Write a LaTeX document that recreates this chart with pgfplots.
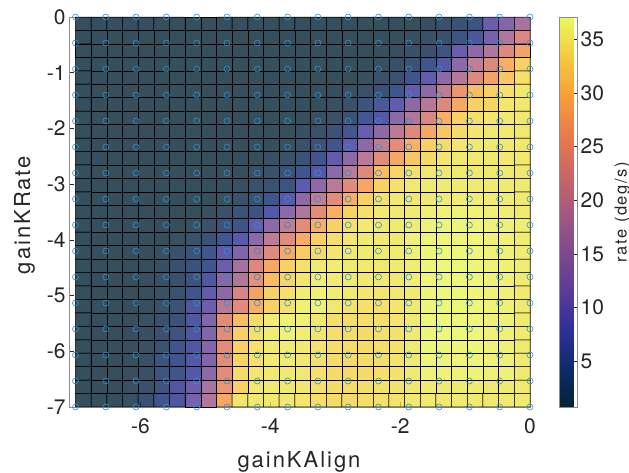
\documentclass[border=0pt]{standalone}
\usepackage{pgfplots}
\pgfplotsset{compat=1.18}
\usepackage{fontspec}
\setmainfont{TeX Gyre Heros}
\newfontfamily\labfont{TeX Gyre Heros}[LetterSpace=9]
\newfontfamily\cbfont{TeX Gyre Heros}[LetterSpace=10]
\definecolor{mlgray}{rgb}{0.15,0.15,0.15}
\definecolor{mlblue}{rgb}{0,0.447,0.741}
\definecolor{axgray}{rgb}{0.55,0.55,0.55}
\pgfplotsset{
  /pgf/number format/assume math mode=true,
  colormap={thermal}{rgb255=(4,35,51) rgb255=(13,43,108) rgb255=(48,47,155) rgb255=(92,60,152) rgb255=(128,73,142) rgb255=(166,88,126) rgb255=(204,102,100) rgb255=(234,123,74) rgb255=(248,158,56) rgb255=(245,203,62) rgb255=(232,250,91)},
}
\begin{document}
\begin{tikzpicture}
\begin{axis}[
  at={(0pt,0pt)}, anchor=south west,
  scale only axis, width=461pt, height=390pt,
  xmin=-7.1, xmax=0, ymin=-7, ymax=0,
  xtick={-6,-4,-2,0}, ytick={-7,-6,-5,-4,-3,-2,-1,0},
  tick pos=left, tick align=inside, major tick length=5pt,
  axis line style={draw=axgray, line width=0.6pt},
  tick style={draw=mlgray, line width=0.5pt},
  tick label style={font=\fontsize{21}{25}\selectfont, text=mlgray},
  xticklabel style={yshift=-8pt},
  xlabel={\labfont gainKAlign},
  ylabel={\labfont gainKRate},
  xlabel style={at={(axis description cs:0.499,-0.1546)}, anchor=base, font=\fontsize{22}{26}\selectfont, text=mlgray},
  ylabel style={at={(axis description cs:-0.0846,0.492)}, anchor=base, font=\fontsize{22}{26}\selectfont, text=mlgray},
  clip=false,
  colormap name=thermal,
  point meta min=0.7, point meta max=37.1,
  colorbar,
  colorbar shift/.style={xshift=20pt},
  colorbar style={
    scale only axis, width=18pt, height=390pt,
    ytick={5,10,15,20,25,30,35},
    tick pos=right, tick align=inside, major tick length=3.5pt,
    axis line style={draw=axgray, line width=0.5pt},
    tick style={draw=mlgray, line width=0.5pt},
    yticklabel style={font=\fontsize{21}{25}\selectfont, text=mlgray, /pgf/number format/assume math mode=true},
    ylabel={\cbfont rate (deg/s)},
    ylabel style={at={(axis description cs:3.75,0.5)}, anchor=base, font=\fontsize{16.5}{19}\selectfont, text=mlgray},
  },
]
\addplot[matrix plot*, mesh/cols=29, mesh/rows=29, point meta=explicit, shader=faceted, faceted color=black, fill opacity=0.8, line width=0.5pt]
table[x expr={-7+(\coordindex-29*floor((\coordindex+0.5)/29)+0.5)*7/29}, y expr={-7+(floor((\coordindex+0.5)/29)+0.5)*7/29}, meta=c, row sep=\\]{
c\\
0.8\\ 0.8\\ 0.8\\ 1.3\\ 2.5\\ 4.5\\ 6.5\\ 11\\ 18\\ 28.5\\ 35\\ 35.3\\ 35.3\\ 35.3\\ 35\\ 34.3\\ 34\\ 34\\ 34.2\\ 34.5\\ 34.8\\ 35.3\\ 35.5\\ 35.3\\ 35.5\\ 35.5\\ 35.3\\ 35.5\\ 35.5\\
0.8\\ 0.8\\ 0.8\\ 1.2\\ 2\\ 3.5\\ 6.5\\ 10\\ 17\\ 26\\ 33\\ 35\\ 35.3\\ 35.3\\ 35\\ 34.3\\ 34\\ 34\\ 34.2\\ 34.5\\ 34.8\\ 35.3\\ 35.5\\ 35.5\\ 35.5\\ 35.5\\ 35.3\\ 35.5\\ 35.5\\
0.8\\ 0.8\\ 0.8\\ 1\\ 1.6\\ 3.5\\ 4.5\\ 7.5\\ 13.5\\ 24.5\\ 34\\ 35\\ 35.5\\ 35.5\\ 35.2\\ 34.5\\ 34\\ 33.8\\ 34\\ 34.3\\ 34.8\\ 35.5\\ 36.3\\ 36.3\\ 36.3\\ 36.3\\ 36\\ 36\\ 35.5\\
0.8\\ 0.8\\ 0.8\\ 1\\ 1.5\\ 3.5\\ 4.5\\ 7.3\\ 12.5\\ 24.5\\ 33.5\\ 34.5\\ 35.5\\ 35.5\\ 35.2\\ 34.5\\ 34\\ 33.8\\ 34\\ 34.3\\ 34.8\\ 35.5\\ 36.5\\ 36.5\\ 36.5\\ 36.5\\ 36.3\\ 36\\ 35.5\\
0.8\\ 0.8\\ 0.8\\ 1\\ 1.4\\ 2.3\\ 4.5\\ 6.5\\ 12.5\\ 24.5\\ 33\\ 34.5\\ 35.5\\ 35.8\\ 35.5\\ 34.8\\ 34.2\\ 34\\ 34\\ 34.3\\ 34.8\\ 35.5\\ 36.5\\ 36.5\\ 36.5\\ 36.5\\ 36.3\\ 36\\ 35.5\\
0.8\\ 0.8\\ 0.8\\ 0.9\\ 1.3\\ 2.2\\ 3.5\\ 6.5\\ 12.3\\ 24.5\\ 33\\ 34.5\\ 35.8\\ 36\\ 35.8\\ 35\\ 34.3\\ 34\\ 34\\ 34.3\\ 34.8\\ 35.5\\ 36.5\\ 36.8\\ 36.8\\ 36.5\\ 36.3\\ 36\\ 35.5\\
0.8\\ 0.8\\ 0.8\\ 0.9\\ 1.2\\ 2\\ 3\\ 6.5\\ 12.3\\ 24.5\\ 31\\ 34\\ 35.8\\ 36\\ 36\\ 35.3\\ 34.5\\ 34.2\\ 34.2\\ 34.5\\ 35\\ 35.5\\ 36.5\\ 36.8\\ 36.8\\ 36.5\\ 36.3\\ 36\\ 35.5\\
0.8\\ 0.8\\ 0.8\\ 0.9\\ 1.1\\ 1.8\\ 3\\ 6.5\\ 10\\ 19\\ 24\\ 29.5\\ 33\\ 34.5\\ 36\\ 36\\ 35.3\\ 34.8\\ 34.5\\ 34.5\\ 35\\ 35.5\\ 36.5\\ 36.8\\ 36.8\\ 36.5\\ 36.3\\ 36\\ 35.5\\
0.8\\ 0.8\\ 0.8\\ 0.8\\ 1\\ 1.6\\ 2.5\\ 4.5\\ 9\\ 14\\ 22.5\\ 28\\ 33\\ 34.5\\ 35.8\\ 36\\ 35.8\\ 35.3\\ 35\\ 35\\ 35.2\\ 35.5\\ 36.5\\ 36.8\\ 36.8\\ 36.5\\ 36.3\\ 36\\ 35.5\\
0.8\\ 0.8\\ 0.8\\ 0.8\\ 1\\ 1.5\\ 2.2\\ 3.5\\ 6.5\\ 13\\ 18\\ 25\\ 31\\ 33.5\\ 35\\ 35.8\\ 35.8\\ 35.5\\ 35.3\\ 35.2\\ 35.3\\ 35.8\\ 36.5\\ 36.8\\ 36.8\\ 36.5\\ 36.3\\ 36\\ 35.5\\
0.8\\ 0.8\\ 0.8\\ 0.8\\ 0.9\\ 1.3\\ 2\\ 3\\ 4.8\\ 10\\ 16.5\\ 23.5\\ 28.5\\ 33\\ 34.5\\ 35.5\\ 35.8\\ 35.5\\ 35.3\\ 35.3\\ 35.5\\ 35.8\\ 36.5\\ 36.8\\ 36.8\\ 36.5\\ 36.3\\ 36\\ 35.8\\
0.8\\ 0.8\\ 0.8\\ 0.8\\ 0.8\\ 1.2\\ 1.8\\ 2.8\\ 4.8\\ 8.5\\ 12\\ 19\\ 24\\ 28.8\\ 32.5\\ 34\\ 35\\ 35.5\\ 35.5\\ 35.5\\ 35.6\\ 36\\ 36.5\\ 36.8\\ 36.8\\ 36.5\\ 36.3\\ 36\\ 35.8\\
0.8\\ 0.8\\ 0.8\\ 0.8\\ 0.8\\ 0.8\\ 1.2\\ 1.8\\ 2.8\\ 4.8\\ 8\\ 13.5\\ 19.5\\ 24\\ 29\\ 32.8\\ 34.2\\ 35.2\\ 35.5\\ 35.5\\ 35.5\\ 36\\ 36.5\\ 36.5\\ 36.5\\ 36.5\\ 36.3\\ 36\\ 35.8\\
0.8\\ 0.8\\ 0.8\\ 0.8\\ 0.8\\ 0.8\\ 0.8\\ 1.2\\ 1.8\\ 2.8\\ 4\\ 9\\ 13.5\\ 20\\ 24.5\\ 29.5\\ 33\\ 34.5\\ 35.2\\ 35.3\\ 35.3\\ 35.8\\ 36.3\\ 36.5\\ 36.5\\ 36.5\\ 36.3\\ 36\\ 35.8\\
0.8\\ 0.8\\ 0.8\\ 0.8\\ 0.8\\ 0.8\\ 0.8\\ 0.8\\ 1.2\\ 1.8\\ 2.8\\ 3.5\\ 7.3\\ 13.5\\ 18\\ 24.5\\ 29.5\\ 33\\ 34.5\\ 35.2\\ 35.3\\ 35.5\\ 36\\ 36.3\\ 36.3\\ 36.3\\ 36\\ 35.8\\ 35.6\\
0.8\\ 0.8\\ 0.8\\ 0.8\\ 0.8\\ 0.8\\ 0.8\\ 0.8\\ 0.8\\ 1.2\\ 1.8\\ 2.5\\ 4.5\\ 8\\ 14\\ 20\\ 24\\ 29.5\\ 33\\ 34.5\\ 35.2\\ 35.3\\ 35.5\\ 35.8\\ 35.8\\ 35.8\\ 35.8\\ 35.6\\ 35.5\\
0.8\\ 0.8\\ 0.8\\ 0.8\\ 0.8\\ 0.8\\ 0.8\\ 0.8\\ 0.8\\ 0.8\\ 1.2\\ 1.8\\ 2.5\\ 3.5\\ 8.5\\ 14\\ 19\\ 24\\ 28.5\\ 33\\ 34.5\\ 35.2\\ 35.3\\ 35.5\\ 35.5\\ 35.5\\ 35.5\\ 35.5\\ 35.5\\
0.8\\ 0.8\\ 0.8\\ 0.8\\ 0.8\\ 0.8\\ 0.8\\ 0.8\\ 0.8\\ 0.8\\ 0.8\\ 1.2\\ 1.8\\ 2.8\\ 4.5\\ 7.5\\ 13.5\\ 19\\ 23.6\\ 31\\ 33.5\\ 34.5\\ 35.2\\ 35.3\\ 35.3\\ 35.3\\ 35.3\\ 35.3\\ 35.3\\
0.8\\ 0.8\\ 0.8\\ 0.8\\ 0.8\\ 0.8\\ 0.8\\ 0.8\\ 0.8\\ 0.8\\ 0.8\\ 0.8\\ 1.2\\ 1.8\\ 2.8\\ 4.5\\ 9\\ 14\\ 19\\ 24.5\\ 28.5\\ 32\\ 34\\ 35\\ 35.3\\ 35.3\\ 35.3\\ 35.3\\ 35.3\\
0.8\\ 0.8\\ 0.8\\ 0.8\\ 0.8\\ 0.8\\ 0.8\\ 0.8\\ 0.8\\ 0.8\\ 0.8\\ 0.8\\ 0.8\\ 1.2\\ 1.8\\ 2.8\\ 4.5\\ 9\\ 14\\ 20\\ 24.5\\ 30\\ 33\\ 34\\ 35\\ 35.3\\ 35.3\\ 35.3\\ 35.3\\
0.8\\ 0.8\\ 0.8\\ 0.8\\ 0.8\\ 0.8\\ 0.8\\ 0.8\\ 0.8\\ 0.8\\ 0.8\\ 0.8\\ 0.8\\ 0.8\\ 1.2\\ 1.8\\ 2.8\\ 5\\ 9.5\\ 14\\ 19\\ 23.6\\ 28.5\\ 32\\ 34\\ 35\\ 35.3\\ 35.3\\ 35.3\\
0.8\\ 0.8\\ 0.8\\ 0.8\\ 0.8\\ 0.8\\ 0.8\\ 0.8\\ 0.8\\ 0.8\\ 0.8\\ 0.8\\ 0.8\\ 0.8\\ 0.8\\ 1.2\\ 1.8\\ 2.8\\ 5.5\\ 7.5\\ 13.5\\ 18\\ 23\\ 29.5\\ 33\\ 34.3\\ 35\\ 35.3\\ 35.3\\
0.8\\ 0.8\\ 0.8\\ 0.8\\ 0.8\\ 0.8\\ 0.8\\ 0.8\\ 0.8\\ 0.8\\ 0.8\\ 0.8\\ 0.8\\ 0.8\\ 0.8\\ 0.8\\ 1.2\\ 1.8\\ 3.5\\ 6\\ 9\\ 14\\ 18.5\\ 23.6\\ 28.5\\ 33\\ 33.5\\ 35\\ 35.3\\
0.8\\ 0.8\\ 0.8\\ 0.8\\ 0.8\\ 0.8\\ 0.8\\ 0.8\\ 0.8\\ 0.8\\ 0.8\\ 0.8\\ 0.8\\ 0.8\\ 0.8\\ 0.8\\ 0.8\\ 1.2\\ 1.8\\ 2.5\\ 4.5\\ 9\\ 14\\ 20\\ 26\\ 31\\ 33\\ 34.5\\ 35.3\\
0.8\\ 0.8\\ 0.8\\ 0.8\\ 0.8\\ 0.8\\ 0.8\\ 0.8\\ 0.8\\ 0.8\\ 0.8\\ 0.8\\ 0.8\\ 0.8\\ 0.8\\ 0.8\\ 0.8\\ 0.8\\ 1.2\\ 1.8\\ 2.5\\ 4.5\\ 9\\ 14\\ 18.5\\ 23.6\\ 28\\ 32\\ 34.5\\
0.8\\ 0.8\\ 0.8\\ 0.8\\ 0.8\\ 0.8\\ 0.8\\ 0.8\\ 0.8\\ 0.8\\ 0.8\\ 0.8\\ 0.8\\ 0.8\\ 0.8\\ 0.8\\ 0.8\\ 0.8\\ 0.8\\ 1.2\\ 1.7\\ 2.7\\ 4.6\\ 7.3\\ 14\\ 20\\ 23.6\\ 29.5\\ 33\\
0.8\\ 0.8\\ 0.8\\ 0.8\\ 0.8\\ 0.8\\ 0.8\\ 0.8\\ 0.8\\ 0.8\\ 0.8\\ 0.8\\ 0.8\\ 0.8\\ 0.8\\ 0.8\\ 0.8\\ 0.8\\ 0.8\\ 0.8\\ 1.1\\ 1.7\\ 2.2\\ 3.5\\ 9.5\\ 14\\ 18\\ 23.6\\ 28\\
0.8\\ 0.8\\ 0.8\\ 0.8\\ 0.8\\ 0.8\\ 0.8\\ 0.8\\ 0.8\\ 0.8\\ 0.8\\ 0.8\\ 0.8\\ 0.8\\ 0.8\\ 0.8\\ 0.8\\ 0.8\\ 0.8\\ 0.8\\ 0.8\\ 1.1\\ 1.7\\ 2.2\\ 4\\ 6\\ 11\\ 18\\ 23\\
0.8\\ 0.8\\ 0.8\\ 0.8\\ 0.8\\ 0.8\\ 0.8\\ 0.8\\ 0.8\\ 0.8\\ 0.8\\ 0.8\\ 0.8\\ 0.8\\ 0.8\\ 0.8\\ 0.8\\ 0.8\\ 0.8\\ 0.8\\ 0.8\\ 0.8\\ 1.1\\ 1.7\\ 2.6\\ 3.5\\ 10\\ 12.3\\ 17\\
};
\addplot[only marks, mark=o, mark size=3pt, color=mlblue!80!white, mark options={line width=0.6pt}]
table[row sep=\\]{
x y\\
-7 -7\\ -6.5333 -7\\ -6.0667 -7\\ -5.6 -7\\ -5.1333 -7\\ -4.6667 -7\\ -4.2 -7\\ -3.7333 -7\\ -3.2667 -7\\ -2.8 -7\\ -2.3333 -7\\ -1.8667 -7\\ -1.4 -7\\ -0.9333 -7\\ -0.4667 -7\\ 0 -7\\
-7 -6.5333\\ -6.5333 -6.5333\\ -6.0667 -6.5333\\ -5.6 -6.5333\\ -5.1333 -6.5333\\ -4.6667 -6.5333\\ -4.2 -6.5333\\ -3.7333 -6.5333\\ -3.2667 -6.5333\\ -2.8 -6.5333\\ -2.3333 -6.5333\\ -1.8667 -6.5333\\ -1.4 -6.5333\\ -0.9333 -6.5333\\ -0.4667 -6.5333\\ 0 -6.5333\\
-7 -6.0667\\ -6.5333 -6.0667\\ -6.0667 -6.0667\\ -5.6 -6.0667\\ -5.1333 -6.0667\\ -4.6667 -6.0667\\ -4.2 -6.0667\\ -3.7333 -6.0667\\ -3.2667 -6.0667\\ -2.8 -6.0667\\ -2.3333 -6.0667\\ -1.8667 -6.0667\\ -1.4 -6.0667\\ -0.9333 -6.0667\\ -0.4667 -6.0667\\ 0 -6.0667\\
-7 -5.6\\ -6.5333 -5.6\\ -6.0667 -5.6\\ -5.6 -5.6\\ -5.1333 -5.6\\ -4.6667 -5.6\\ -4.2 -5.6\\ -3.7333 -5.6\\ -3.2667 -5.6\\ -2.8 -5.6\\ -2.3333 -5.6\\ -1.8667 -5.6\\ -1.4 -5.6\\ -0.9333 -5.6\\ -0.4667 -5.6\\ 0 -5.6\\
-7 -5.1333\\ -6.5333 -5.1333\\ -6.0667 -5.1333\\ -5.6 -5.1333\\ -5.1333 -5.1333\\ -4.6667 -5.1333\\ -4.2 -5.1333\\ -3.7333 -5.1333\\ -3.2667 -5.1333\\ -2.8 -5.1333\\ -2.3333 -5.1333\\ -1.8667 -5.1333\\ -1.4 -5.1333\\ -0.9333 -5.1333\\ -0.4667 -5.1333\\ 0 -5.1333\\
-7 -4.6667\\ -6.5333 -4.6667\\ -6.0667 -4.6667\\ -5.6 -4.6667\\ -5.1333 -4.6667\\ -4.6667 -4.6667\\ -4.2 -4.6667\\ -3.7333 -4.6667\\ -3.2667 -4.6667\\ -2.8 -4.6667\\ -2.3333 -4.6667\\ -1.8667 -4.6667\\ -1.4 -4.6667\\ -0.9333 -4.6667\\ -0.4667 -4.6667\\ 0 -4.6667\\
-7 -4.2\\ -6.5333 -4.2\\ -6.0667 -4.2\\ -5.6 -4.2\\ -5.1333 -4.2\\ -4.6667 -4.2\\ -4.2 -4.2\\ -3.7333 -4.2\\ -3.2667 -4.2\\ -2.8 -4.2\\ -2.3333 -4.2\\ -1.8667 -4.2\\ -1.4 -4.2\\ -0.9333 -4.2\\ -0.4667 -4.2\\ 0 -4.2\\
-7 -3.7333\\ -6.5333 -3.7333\\ -6.0667 -3.7333\\ -5.6 -3.7333\\ -5.1333 -3.7333\\ -4.6667 -3.7333\\ -4.2 -3.7333\\ -3.7333 -3.7333\\ -3.2667 -3.7333\\ -2.8 -3.7333\\ -2.3333 -3.7333\\ -1.8667 -3.7333\\ -1.4 -3.7333\\ -0.9333 -3.7333\\ -0.4667 -3.7333\\ 0 -3.7333\\
-7 -3.2667\\ -6.5333 -3.2667\\ -6.0667 -3.2667\\ -5.6 -3.2667\\ -5.1333 -3.2667\\ -4.6667 -3.2667\\ -4.2 -3.2667\\ -3.7333 -3.2667\\ -3.2667 -3.2667\\ -2.8 -3.2667\\ -2.3333 -3.2667\\ -1.8667 -3.2667\\ -1.4 -3.2667\\ -0.9333 -3.2667\\ -0.4667 -3.2667\\ 0 -3.2667\\
-7 -2.8\\ -6.5333 -2.8\\ -6.0667 -2.8\\ -5.6 -2.8\\ -5.1333 -2.8\\ -4.6667 -2.8\\ -4.2 -2.8\\ -3.7333 -2.8\\ -3.2667 -2.8\\ -2.8 -2.8\\ -2.3333 -2.8\\ -1.8667 -2.8\\ -1.4 -2.8\\ -0.9333 -2.8\\ -0.4667 -2.8\\ 0 -2.8\\
-7 -2.3333\\ -6.5333 -2.3333\\ -6.0667 -2.3333\\ -5.6 -2.3333\\ -5.1333 -2.3333\\ -4.6667 -2.3333\\ -4.2 -2.3333\\ -3.7333 -2.3333\\ -3.2667 -2.3333\\ -2.8 -2.3333\\ -2.3333 -2.3333\\ -1.8667 -2.3333\\ -1.4 -2.3333\\ -0.9333 -2.3333\\ -0.4667 -2.3333\\ 0 -2.3333\\
-7 -1.8667\\ -6.5333 -1.8667\\ -6.0667 -1.8667\\ -5.6 -1.8667\\ -5.1333 -1.8667\\ -4.6667 -1.8667\\ -4.2 -1.8667\\ -3.7333 -1.8667\\ -3.2667 -1.8667\\ -2.8 -1.8667\\ -2.3333 -1.8667\\ -1.8667 -1.8667\\ -1.4 -1.8667\\ -0.9333 -1.8667\\ -0.4667 -1.8667\\ 0 -1.8667\\
-7 -1.4\\ -6.5333 -1.4\\ -6.0667 -1.4\\ -5.6 -1.4\\ -5.1333 -1.4\\ -4.6667 -1.4\\ -4.2 -1.4\\ -3.7333 -1.4\\ -3.2667 -1.4\\ -2.8 -1.4\\ -2.3333 -1.4\\ -1.8667 -1.4\\ -1.4 -1.4\\ -0.9333 -1.4\\ -0.4667 -1.4\\ 0 -1.4\\
-7 -0.9333\\ -6.5333 -0.9333\\ -6.0667 -0.9333\\ -5.6 -0.9333\\ -5.1333 -0.9333\\ -4.6667 -0.9333\\ -4.2 -0.9333\\ -3.7333 -0.9333\\ -3.2667 -0.9333\\ -2.8 -0.9333\\ -2.3333 -0.9333\\ -1.8667 -0.9333\\ -1.4 -0.9333\\ -0.9333 -0.9333\\ -0.4667 -0.9333\\ 0 -0.9333\\
-7 -0.4667\\ -6.5333 -0.4667\\ -6.0667 -0.4667\\ -5.6 -0.4667\\ -5.1333 -0.4667\\ -4.6667 -0.4667\\ -4.2 -0.4667\\ -3.7333 -0.4667\\ -3.2667 -0.4667\\ -2.8 -0.4667\\ -2.3333 -0.4667\\ -1.8667 -0.4667\\ -1.4 -0.4667\\ -0.9333 -0.4667\\ -0.4667 -0.4667\\ 0 -0.4667\\
-7 0\\ -6.5333 0\\ -6.0667 0\\ -5.6 0\\ -5.1333 0\\ -4.6667 0\\ -4.2 0\\ -3.7333 0\\ -3.2667 0\\ -2.8 0\\ -2.3333 0\\ -1.8667 0\\ -1.4 0\\ -0.9333 0\\ -0.4667 0\\ 0 0\\
};
\end{axis}
\pgfresetboundingbox
\path[use as bounding box] (-69pt,-66pt) rectangle (560pt,407pt);
\end{tikzpicture}
\end{document}
